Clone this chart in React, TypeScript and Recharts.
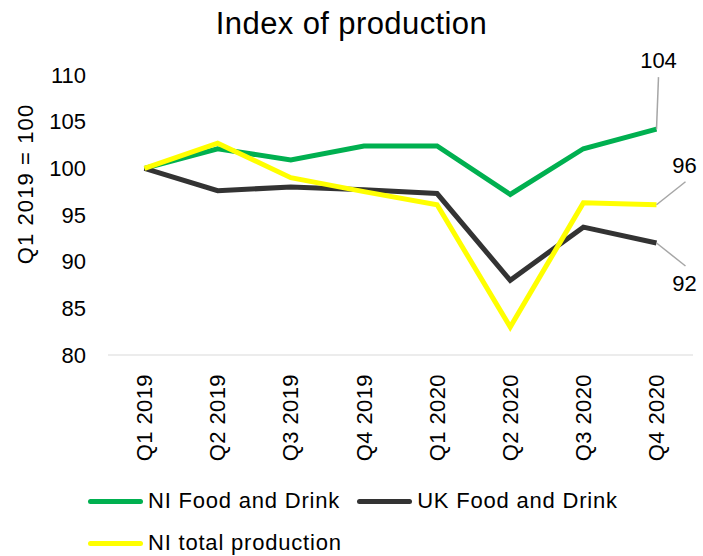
import { LineChart, Line, XAxis, YAxis, Legend, LabelList, Label } from 'recharts'

const quarters = ['Q1 2019', 'Q2 2019', 'Q3 2019', 'Q4 2019', 'Q1 2020', 'Q2 2020', 'Q3 2020', 'Q4 2020']
const niFoodDrink = [100, 102.1, 100.9, 102.4, 102.4, 97.2, 102.1, 104.2]
const ukFoodDrink = [100, 97.6, 98.0, 97.7, 97.3, 88.0, 93.7, 92.0]
const niTotal = [100, 102.7, 99.0, 97.5, 96.1, 83.0, 96.3, 96.1]
const yTicks = [80, 85, 90, 95, 100, 105, 110]
const seriesNames = ['NI Food and Drink', 'UK Food and Drink', 'NI total production']

const chartData = quarters.map((q, i) => ({
  quarter: q,
  niFood: niFoodDrink[i],
  ukFood: ukFoodDrink[i],
  niTotal: niTotal[i]
}))

const FONT = '"Liberation Sans", Arial, sans-serif'
const lastIndex = quarters.length - 1

// where the end label sits relative to the last point: leader end + text baseline
const endLabelOffsets: Record<string, { lx: number; ly: number; tx: number; ty: number }> = {
  niFood: { lx: 2, ly: -52, tx: 2, ty: -61 },
  niTotal: { lx: 29, ly: -23, tx: 28, ty: -32 },
  ukFood: { lx: 29, ly: 23, tx: 28, ty: 48 }
}

function endLabel(key: string) {
  return (props: any) => {
    const { x, y, value, index } = props
    if (index !== lastIndex) return null
    const o = endLabelOffsets[key]
    return (
      <g>
        <line x1={x} y1={y} x2={x + o.lx} y2={y + o.ly} stroke="#a6a6a6" strokeWidth={1.5} />
        <text x={x + o.tx} y={y + o.ty} textAnchor="middle" fontSize={22} fill="#000" fontFamily={FONT}>
          {Math.round(value)}
        </text>
      </g>
    )
  }
}

function QuarterTick(props: any) {
  const { x, y, payload } = props
  return (
    <g transform={`translate(${x},${y})`}>
      <text x={-17} y={0} dy="0.35em" transform="rotate(-90)" textAnchor="end" fontSize={22} fill="#000" fontFamily={FONT} letterSpacing={0.4}>
        {payload.value}
      </text>
    </g>
  )
}

function renderLegend(props: any) {
  const items = [...(props.payload || [])].sort(
    (a: any, b: any) => seriesNames.indexOf(a.value) - seriesNames.indexOf(b.value)
  )
  return (
    <div style={{ display: 'flex', flexWrap: 'wrap', width: 560, columnGap: 17, fontFamily: FONT, fontSize: 22 }}>
      {items.map((item: any) => (
        <div key={item.value} style={{ display: 'flex', alignItems: 'center', height: 42 }}>
          <div style={{ width: 55, height: 5, borderRadius: 3, background: item.color, marginRight: 5 }} />
          <span style={{ color: '#000', whiteSpace: 'nowrap', letterSpacing: '0.8px' }}>{item.value}</span>
        </div>
      ))}
    </div>
  )
}

export default function App() {
  return (
    <div style={{ position: 'absolute', left: 0, top: 0, width: 703, height: 556, background: '#fff' }}>
      <div
        style={{
          position: 'absolute',
          left: 0,
          top: 8,
          width: 703,
          textAlign: 'center',
          fontFamily: FONT,
          fontSize: 31,
          lineHeight: '31px',
          letterSpacing: '0.4px',
          color: '#000'
        }}
      >
        Index of production
      </div>
      <LineChart width={703} height={556} data={chartData} margin={{ top: 75, right: 10, bottom: 0, left: 0 }}>
        <XAxis
          dataKey="quarter"
          height={201}
          padding={{ left: 36.5, right: 36.5 }}
          axisLine={{ stroke: '#d9d9d9', strokeWidth: 1 }}
          tickLine={false}
          tickSize={0}
          interval={0}
          tick={<QuarterTick />}
        />
        <YAxis
          width={108}
          domain={[80, 110]}
          ticks={yTicks}
          interval={0}
          axisLine={false}
          tickLine={false}
          tickSize={0}
          tickMargin={22}
          tick={{ fontSize: 22, fill: '#000', fontFamily: FONT }}
        >
          <Label
            content={() => (
              <text
                x={33}
                y={184}
                transform="rotate(-90, 33, 184)"
                textAnchor="middle"
                fontSize={22}
                fill="#000"
                fontFamily={FONT}
                letterSpacing={1.1}
              >
                Q1 2019 = 100
              </text>
            )}
          />
        </YAxis>
        <Legend
          layout="horizontal"
          verticalAlign="middle"
          align="center"
          wrapperStyle={{ top: 480, left: 88, width: 560 }}
          content={renderLegend}
        />
        <Line
          type="linear"
          dataKey="niFood"
          name={seriesNames[0]}
          stroke="#00b050"
          strokeWidth={5}
          dot={false}
          isAnimationActive={false}
        >
          <LabelList dataKey="niFood" content={endLabel('niFood')} />
        </Line>
        <Line
          type="linear"
          dataKey="ukFood"
          name={seriesNames[1]}
          stroke="#333333"
          strokeWidth={5}
          dot={false}
          isAnimationActive={false}
        >
          <LabelList dataKey="ukFood" content={endLabel('ukFood')} />
        </Line>
        <Line
          type="linear"
          dataKey="niTotal"
          name={seriesNames[2]}
          stroke="#ffff00"
          strokeWidth={5}
          dot={false}
          isAnimationActive={false}
        >
          <LabelList dataKey="niTotal" content={endLabel('niTotal')} />
        </Line>
      </LineChart>
    </div>
  )
}
